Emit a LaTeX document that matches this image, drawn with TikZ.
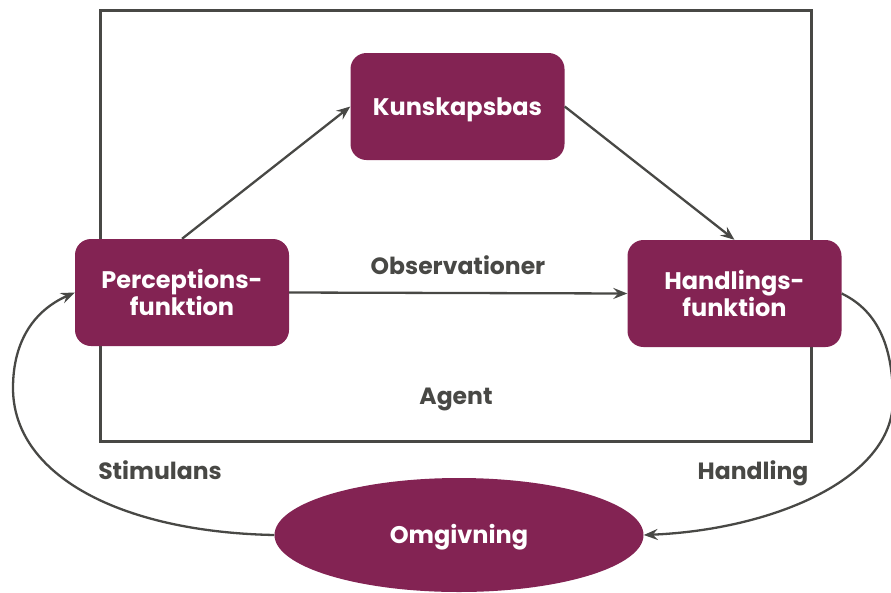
\documentclass[tikz,border=0pt]{standalone}
\usepackage{fontspec}
\setmainfont{Poppins}
\usetikzlibrary{arrows.meta,shapes.geometric}
\definecolor{plum}{HTML}{832353}
\definecolor{ink}{HTML}{484845}
\tikzset{
  box/.style={draw=none,fill=plum,rounded corners=16pt,minimum width=214pt,minimum height=107pt,
    text=white,align=center,inner sep=0pt,font=\fontsize{24}{24}\selectfont\bfseries},
  oneline/.style={text height=17pt,text depth=0pt},
  lbl/.style={text=ink,inner sep=0pt,oneline,font=\fontsize{23.5}{24}\selectfont\bfseries},
  conn/.style={draw=ink,line width=2.3pt,-{Stealth[length=14pt,width=11pt,inset=5pt]}},
}
\begin{document}
\begin{tikzpicture}[x=1pt,y=-1pt]
\useasboundingbox (0,0) rectangle (891,592);
\node[draw=ink,line width=3pt,minimum width=711pt,minimum height=431pt,inner sep=0pt] (agentbox) at (455.5,225.5) {};
\node[box,oneline] (kb) at (457.5,106.5) {Kunskapsbas};
\node[box] (perc) at (182,292.5) {Perceptions-\\funktion};
\node[box] (hand) at (734.5,293.5) {Handlings-\\funktion};
\node[ellipse,fill=plum,minimum width=369pt,minimum height=114pt,inner sep=0pt,text=white,oneline,font=\fontsize{24}{24}\selectfont\bfseries] (omg) at (459,535) {Omgivning};
\node[lbl] (obs) at (458,266) {Observationer};
\node[lbl] (agent) at (456,396) {Agent};
\node[lbl] (stim) at (160,471) {Stimulans};
\node[lbl] (handl) at (753,471) {Handling};
\coordinate (lc) at (13,388);
\coordinate (rc) at (893,400);
\draw[conn] (perc.north) -- (kb.west);
\draw[conn] (kb.east) -- (hand.north);
\draw[conn] (perc.east) -- (hand.west);
\draw[conn] (hand.east) .. controls (880,312) and (893,350) .. (rc) .. controls (893,480) and (770,530) .. (omg.east);
\draw[conn] (omg.west) .. controls (120,532) and (13,475) .. (lc) .. controls (13,340) and (35,310) .. (perc.west);
\end{tikzpicture}
\end{document}
